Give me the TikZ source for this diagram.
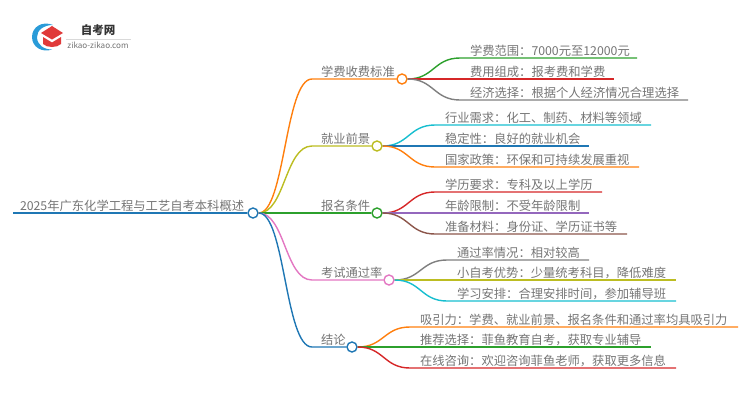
\documentclass[tikz,border=0pt]{standalone}
\usepackage{fontspec}
\setmainfont{Noto Sans CJK SC}
\usetikzlibrary{calc}
\definecolor{cOrange}{HTML}{FF7F0E}
\definecolor{cGreen}{HTML}{2CA02C}
\definecolor{cRed}{HTML}{D62728}
\definecolor{cPurple}{HTML}{9467BD}
\definecolor{cBrown}{HTML}{8C564B}
\definecolor{cPink}{HTML}{E377C2}
\definecolor{cGray}{HTML}{7F7F7F}
\definecolor{cOlive}{HTML}{BCBD22}
\definecolor{cCyan}{HTML}{17BECF}
\definecolor{cBlue}{HTML}{1F77B4}
\definecolor{txtc}{HTML}{757575}
\definecolor{logoblue}{HTML}{2A9BD8}
\definecolor{logored}{HTML}{E03A3A}
\tikzset{
  lbl/.style={anchor=base west,inner sep=0pt,outer sep=0pt,text=txtc,font=\fontsize{12.3}{14}\selectfont},
  dot/.style={circle,draw=#1,fill=white,line width=1.4pt,minimum size=10pt,inner sep=0pt},
  conn/.style={line width=1.4pt,draw=#1},
}
\newcommand{\kid}[7]{% parent, name, color, startx, y, endx, text
  \coordinate (#2s) at (#4,#5);
  \coordinate (#2e) at (#6,#5);
  \draw[conn=#3] (#1.east) .. controls ($(#1.east)!0.5!(#2s|-#1.east)$) and ($(#1.east|-#2s)!0.5!(#2s)$) .. (#2s) -- (#2e);
  \node[lbl] (#2t) at (#4+10,#5-2.6) {#7};
}
\begin{document}
\begin{tikzpicture}[x=1pt,y=-1pt]
\useasboundingbox (0,0) rectangle (750,410);
% logo
\fill[logoblue] (53,25) .. controls (42,20.5) and (32,27) .. (32,37) .. controls (32,47) and (42,53) .. (52,49.5) .. controls (44,49.5) and (37,45) .. (37,37) .. controls (37,30) and (44,25) .. (53,25) -- cycle;
\fill[logored] (52,26) -- (63,33) -- (52,39.5) -- (41,33) -- cycle;
\fill[logored] (43,37) -- (52,42.5) -- (61,37) -- (61,44) .. controls (57,48) and (47,48) .. (43,44) -- cycle;
\node[inner sep=0pt,text=black!80,font=\fontsize{11.5}{13}\selectfont\bfseries] (logot) at (98,30.5) {自考网};
\coordinate (logol) at (66,39);
\coordinate (logor) at (131,39);
\draw[black!15,line width=0.5pt] (logol) -- (logor);
\node[inner sep=0pt,text=black!55,font=\fontsize{8.1}{9}\selectfont] (logou) at (98,45) {zikao-zikao.com};
% root
\coordinate (rs) at (13,213);
\node[dot=cBlue] (root) at (253,213) {};
\node[lbl] (roott) at (20,210.4) {2025年广东化学工程与工艺自考本科概述};
% level 1
\node[dot=cOrange] (a) at (402,79) {};
\node[dot=cOlive] (b) at (377,146) {};
\node[dot=cGreen] (c) at (377,213) {};
\node[dot=cPink] (d) at (389,280) {};
\node[dot=cBlue] (e) at (352,347) {};
\draw[conn=cBlue] (rs) -- (root.west);
\foreach \n/\y/\c in {a/79/cOrange,b/146/cOlive,c/213/cGreen,d/280/cPink,e/347/cBlue}{
  \coordinate (\n s) at (312,\y);
  \draw[conn=\c] (root.east) .. controls (285,213) and (285,\y) .. (\n s) -- (\n.west);
}
\node[lbl] (at) at (321,76.4) {学费收费标准};
\node[lbl] (bt) at (321,143.4) {就业前景};
\node[lbl] (ct) at (321,210.4) {报名条件};
\node[lbl] (dt) at (321,277.4) {考试通过率};
\node[lbl] (et) at (321,344.4) {结论};
% level 2
\kid{a}{a1}{cGreen}{460}{58}{637}{学费范围：7000元至12000元}
\kid{a}{a2}{cRed}{460}{79}{614}{费用组成：报考费和学费}
\kid{a}{a3}{cGray}{460}{100}{688}{经济选择：根据个人经济情况合理选择}
\kid{b}{b1}{cCyan}{435}{125}{651}{行业需求：化工、制药、材料等领域}
\kid{b}{b2}{cBlue}{435}{146}{589}{稳定性：良好的就业机会}
\kid{b}{b3}{cOrange}{435}{167}{639}{国家政策：环保和可持续发展重视}
\kid{c}{c1}{cRed}{435}{192}{602}{学历要求：专科及以上学历}
\kid{c}{c2}{cPurple}{435}{213}{589}{年龄限制：不受年龄限制}
\kid{c}{c3}{cBrown}{435}{234}{627}{准备材料：身份证、学历证书等}
\kid{d}{d1}{cGray}{447}{260}{589}{通过率情况：相对较高}
\kid{d}{d2}{cOlive}{447}{280}{676}{小自考优势：少量统考科目，降低难度}
\kid{d}{d3}{cCyan}{447}{301}{676}{学习安排：合理安排时间，参加辅导班}
\kid{e}{e1}{cOrange}{410}{327}{738}{吸引力：学费、就业前景、报名条件和通过率均具吸引力}
\kid{e}{e2}{cGreen}{410}{347}{651}{推荐选择：菲鱼教育自考，获取专业辅导}
\kid{e}{e3}{cRed}{410}{368}{676}{在线咨询：欢迎咨询菲鱼老师，获取更多信息}
\end{tikzpicture}
\end{document}
